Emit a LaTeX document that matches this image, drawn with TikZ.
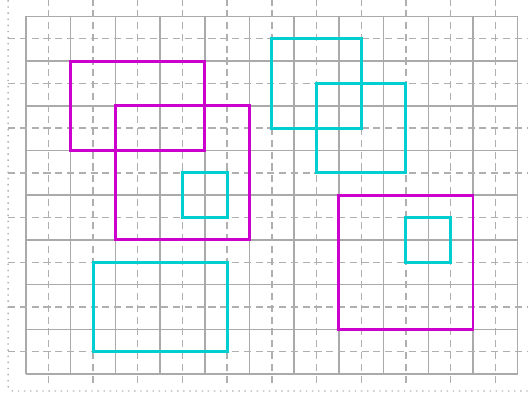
\documentclass[tikz,border=0pt]{standalone}
\usepackage{tikz}
\definecolor{mycyan}{RGB}{0,206,209}
\definecolor{mymag}{RGB}{204,0,204}
\definecolor{gridgray}{RGB}{170,170,170}
\definecolor{dashgray}{RGB}{175,175,175}
\tikzset{
  solidgrid/.style={draw=gridgray, line width=0.9pt},
  dashgrid/.style={draw=dashgray, line width=0.9pt, dash pattern=on 4.5pt off 3pt},
  framedot/.style={draw=gray!60, line width=0.9pt, dash pattern=on 0.9pt off 3pt, rounded corners=3pt},
  cyanbox/.style={draw=mycyan, line width=1.9pt},
  magbox/.style={draw=mymag, line width=1.9pt}
}
\begin{document}
\begin{tikzpicture}
\useasboundingbox (-0.582,-0.537) rectangle (11.253,8.367);
% dotted frame
\draw[framedot] (-0.4,8.5) -- (-0.4,-0.38) -- (11.4,-0.38);
% solid grid
\draw[solidgrid] (0,0) grid[step=1] (11,8);
% dashed grid
\foreach \x in {0.5,1.5,...,10.5} \draw[dashgrid] (\x,8.4) -- (\x,-0.25);
\foreach \y in {0.5,1.5,...,7.5} \draw[dashgrid] (-0.4,\y) -- (11.2,\y);
% rectangles
\draw[magbox] (1,5) rectangle (4,7);
\draw[magbox] (2,3) rectangle (5,6);
\draw[cyanbox] (3.5,3.5) rectangle (4.5,4.5);
\draw[cyanbox] (1.5,0.5) rectangle (4.5,2.5);
\draw[cyanbox] (5.5,5.5) rectangle (7.5,7.5);
\draw[cyanbox] (6.5,4.5) rectangle (8.5,6.5);
\draw[magbox] (7,1) rectangle (10,4);
\draw[cyanbox] (8.5,2.5) rectangle (9.5,3.5);
\end{tikzpicture}
\end{document}
